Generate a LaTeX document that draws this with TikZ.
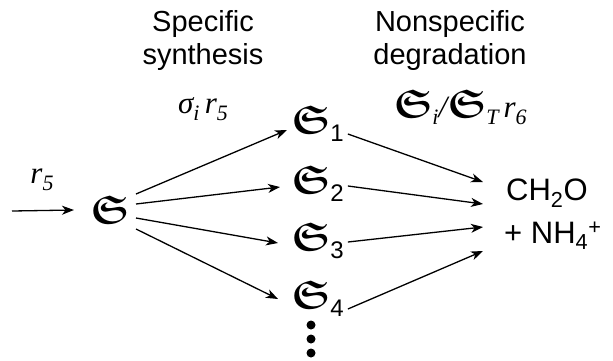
\documentclass[tikz,border=0pt]{standalone}
\usepackage{amssymb}
\usepackage{bm}
\usepackage{fontspec}
\setmainfont{Liberation Sans}
\newfontfamily\tms{Liberation Serif}
\usetikzlibrary{arrows.meta}

% fraktur species symbol and its subscripts
\newcommand\gS{{\fontsize{40}{40}\selectfont$\bm{\mathfrak{S}}$}}
\newcommand\ssub[1]{\raisebox{-8pt}{\fontsize{24}{24}\selectfont #1}}
\newcommand\isub[1]{\raisebox{-7pt}{\fontsize{22}{22}\selectfont\tms\itshape #1}}
\newcommand\iv[1]{{\fontsize{31}{31}\selectfont\tms\itshape #1}}

\begin{document}
\begin{tikzpicture}[x=1pt,y=-1pt,
  lbl/.style={inner sep=0pt,font=\fontsize{29}{33}\selectfont,align=center},
  sp/.style={inner sep=0pt,anchor=west},
  arr/.style={-{Stealth[length=12pt,width=9pt,inset=3.5pt]},line width=1.3pt},
  dot/.style={circle,fill=black,inner sep=0pt,minimum size=9pt}]
\useasboundingbox (0,0) rectangle (613,360);

% column headings
\node[lbl] (h1) at (203,40) {Specific\\synthesis};
\node[lbl] (h2) at (450,40) {Nonspecific\\degradation};

% rate labels
\node[inner sep=0pt] (k1) at (203,109) {\iv{σ}\isub{i}\iv{\,r}\isub{5}};
\node[inner sep=0pt] (k2) at (460,107) {\gS\isub{i}\iv{/}\gS\isub{T}\iv{\,r}\isub{6}};

% inflow
\coordinate (in) at (12,211);
\node[inner sep=0pt] (k0) at (42,180) {\iv{r}\isub{5}};

% pool and its fractions
\node[sp] (S)  at (90,210) {\gS};
\node[sp] (S1) at (291,124) {\gS\ssub{1}};
\node[sp] (S2) at (291,184) {\gS\ssub{2}};
\node[sp] (S3) at (291,241) {\gS\ssub{3}};
\node[sp] (S4) at (291,299) {\gS\ssub{4}};

% products
\node[lbl,anchor=west,font=\fontsize{31}{33}\selectfont] (P1) at (506,193) {CH\textsubscript{2}O};
\node[lbl,anchor=west,font=\fontsize{31}{33}\selectfont] (P2) at (504,236) {+ NH\textsubscript{4}\textsuperscript{+}};
\coordinate (P) at (484,217);

% continuation dots
\node[dot] (d1) at (311,325) {};
\node[dot] (d2) at (311,339) {};
\node[dot] (d3) at (311,353) {};

\draw[arr] (in) -- ([xshift=-16pt]S.west);
\draw[arr] ([shift={(46,-16)}]S.west) -- ([shift={(-4,6)}]S1.west);
\draw[arr] ([shift={(46,-6)}]S.west) -- ([shift={(-11,3)}]S2.west);
\draw[arr] ([shift={(46,8)}]S.west) -- ([shift={(-13,2)}]S3.west);
\draw[arr] ([shift={(46,19)}]S.west) -- ([shift={(-13,0)}]S4.west);

\draw[arr] ([shift={(4,10)}]S1.east) -- ([shift={(-1,-35)}]P);
\draw[arr] ([shift={(4,2)}]S2.east) -- ([shift={(-1,-13)}]P);
\draw[arr] ([shift={(4,1)}]S3.east) -- ([shift={(-1,10)}]P);
\draw[arr] ([shift={(4,10)}]S4.east) -- ([shift={(-1,34)}]P);
\end{tikzpicture}
\end{document}
